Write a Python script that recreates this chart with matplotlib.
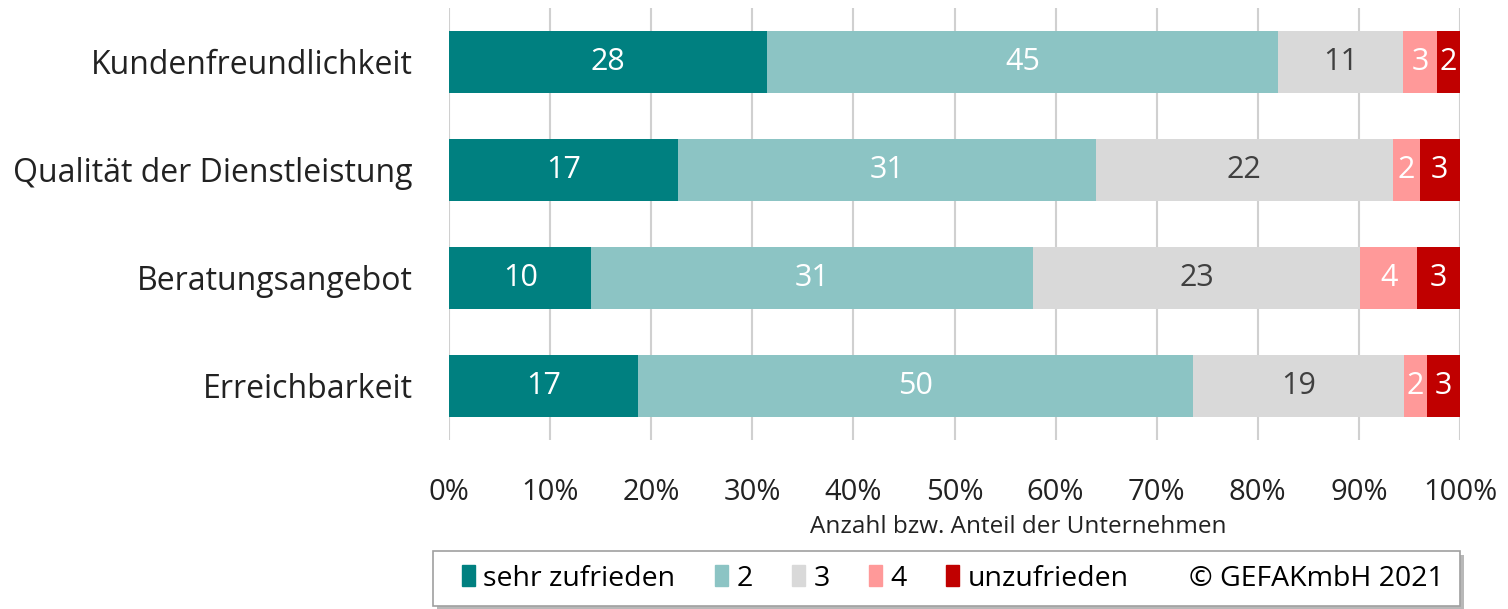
import matplotlib.pyplot as plt
import numpy as np
from matplotlib.patches import Patch, Rectangle

plt.rcParams['font.family'] = ['Open Sans', 'DejaVu Sans']

categories = ["Kundenfreundlichkeit", "Qualität der Dienstleistung", "Beratungsangebot", "Erreichbarkeit"]
series_names = ["sehr zufrieden", "2", "3", "4", "unzufrieden"]
sehr_zufrieden = [28, 17, 10, 17]
s2 = [45, 31, 31, 50]
s3 = [11, 22, 23, 19]
s4 = [3, 2, 4, 2]
unzufrieden = [2, 3, 3, 3]
colors = ["#008080", "#8CC4C4", "#D9D9D9", "#FF9999", "#C00000"]
label_colors = ["white", "white", "#404040", "white", "white"]
xticks = [0, 10, 20, 30, 40, 50, 60, 70, 80, 90, 100]

data = np.array([sehr_zufrieden, s2, s3, s4, unzufrieden], dtype=float)
totals = data.sum(axis=0)
pct = data / totals * 100

W, H = 1508, 609
fig = plt.figure(figsize=(W/100, H/100), dpi=100)
ax = fig.add_axes([449/W, 1-440/H, (1460-449)/W, 432/H])

y = np.arange(len(categories))
left = np.zeros(len(categories))
for i, name in enumerate(series_names):
    ax.barh(y, pct[i], left=left, height=0.574, color=colors[i], label=name, zorder=2)
    for j in range(len(categories)):
        ax.text(left[j] + pct[i][j] / 2, y[j], f"{int(data[i][j])}", ha='center', va='center',
                color=label_colors[i], fontsize=22, zorder=3)
    left += pct[i]

ax.set_ylim(3.5, -0.5)
ax.set_xlim(0, 100)
ax.set_yticks(y)
ax.set_yticklabels(categories, fontsize=23, color='#222222')
ax.set_xticks(xticks)
ax.set_xticklabels([f"{t}%" for t in xticks], fontsize=21, color='#222222')
ax.tick_params(axis='both', length=0)
ax.tick_params(axis='x', pad=27)
ax.tick_params(axis='y', pad=26)
ax.grid(axis='x', color='#D0D0D0', linewidth=1.5, zorder=0)
for s in ax.spines.values():
    s.set_visible(False)
ax.set_xlabel("Anzahl bzw. Anteil der Unternehmen", fontsize=17.5, color='#222222', labelpad=6, x=0.563)

# legend frame with shadow
fx0, fy0, fw, fh = 433/W, 1-606/H, (1460-433)/W, 55/H
fig.patches.append(Rectangle((fx0 + 4/W, fy0 - 4/H), fw, fh, transform=fig.transFigure,
                             facecolor='#B8B8B8', edgecolor='none', zorder=0))
fig.patches.append(Rectangle((fx0, fy0), fw, fh, transform=fig.transFigure,
                             facecolor='white', edgecolor='#A0A0A0', linewidth=1.2, zorder=1))

handles = [Patch(color=c) for c in colors] + [Patch(color='none')]
labels = series_names + ["© GEFAKmbH 2021"]
fig.legend(handles, labels, ncol=6, loc='center left',
           bbox_to_anchor=(462/W, fy0, (1444-462)/W, fh),
           mode='expand', fontsize=20.5, frameon=False,
           handlelength=0.45, handleheight=0.8, handletextpad=0.3,
           borderaxespad=0, borderpad=0.0)

fig.savefig("out.png", dpi=100)
